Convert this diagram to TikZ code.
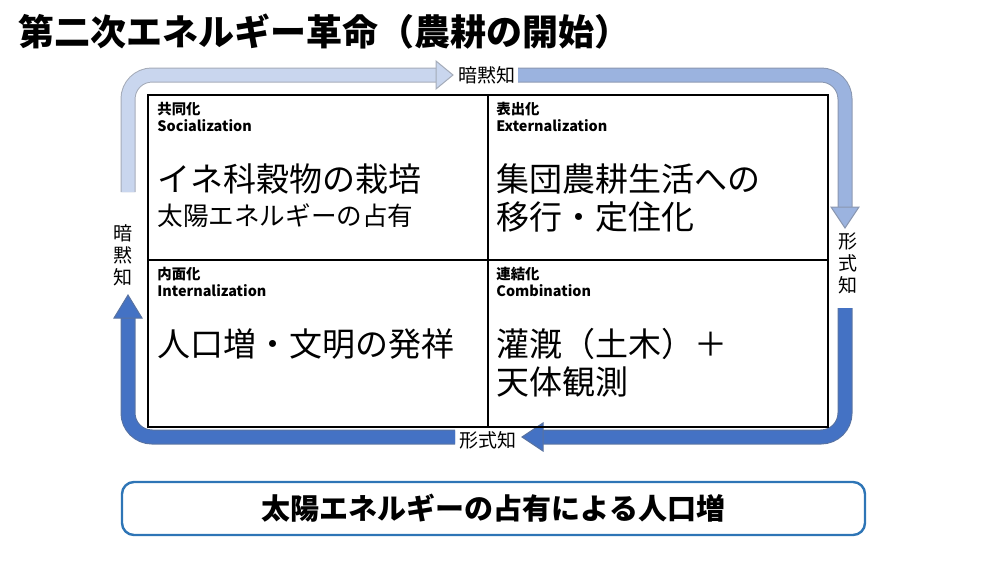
\documentclass[tikz,border=0pt]{standalone}
\usepackage{fontspec}
\setmainfont{Noto Sans CJK JP}
\begin{document}
\begin{tikzpicture}[x=0.5pt,y=-0.5pt,
 arr/.style={draw=#1!70!black!80, line width=0.5pt, double=#1, double distance=6.5pt, rounded corners=12pt},
 head/.style={draw=#1!70!black!80, line width=0.5pt, fill=#1},
 lbl/.style={font=\fontsize{9.5}{10}\selectfont, inner sep=1pt},
 vlbl/.style={font=\fontsize{9.5}{11}\selectfont, align=center, inner sep=1pt, fill=white},
 qhead/.style={font=\fontsize{7.2}{8.5}\selectfont\bfseries, align=left, anchor=north west, inner sep=0pt},
 qbody/.style={font=\fontsize{16.5}{19}\selectfont, align=left, anchor=north west, inner sep=0pt}]
\definecolor{pale}{HTML}{C9D6EE}
\definecolor{mid}{HTML}{9BB3DF}
\definecolor{dark}{HTML}{4472C4}
\definecolor{frame}{HTML}{2E75B6}
\useasboundingbox (0,0) rectangle (1000,562);
\node[anchor=west, font=\fontsize{18}{20}\selectfont\bfseries, inner sep=0pt] (title) at (18,32) {第二次エネルギー革命（農耕の開始）};
% arrows
\coordinate (a1) at (128,192); \coordinate (a2) at (436,75);
\draw[arr=pale] (a1) |- (a2);
\draw[head=pale] (436,61) -- (453,75) -- (436,89) -- cycle;
\coordinate (b1) at (518,75); \coordinate (b2) at (845,207);
\draw[arr=mid] (b1) -| (b2);
\draw[head=mid] (831,207) -- (845,228) -- (859,207) -- cycle;
\coordinate (c1) at (845,308); \coordinate (c2) at (543,437);
\draw[arr=dark] (c1) |- (c2);
\draw[head=dark] (543,423) -- (522,437) -- (543,451) -- cycle;
\coordinate (d1) at (455,437); \coordinate (d2) at (128,318);
\draw[arr=dark] (d1) -| (d2);
\draw[head=dark] (114,318) -- (128,295) -- (142,318) -- cycle;
\node[lbl] (t1) at (487,75) {暗黙知};
\node[vlbl] (t2) at (848,263) {形\\式\\知};
\node[lbl, fill=white] (t3) at (488,440) {形式知};
\node[vlbl] (t4) at (123,255) {暗\\黙\\知};
% grid
\draw[line width=0.6pt] (148,95) rectangle (828,427);
\draw[line width=0.6pt] (488,95) -- (488,427) (148,260) -- (828,260);
\node[qhead] (q1) at (157,102) {共同化\\Socialization};
\node[qbody] (b1t) at (157,163) {イネ科穀物の栽培\\[-2pt]{\fontsize{12.8}{15}\selectfont 太陽エネルギーの占有}};
\node[qhead] (q2) at (496,102) {表出化\\Externalization};
\node[qbody] (b2t) at (496,163) {集団農耕生活への\\移行・定住化};
\node[qhead] (q3) at (157,267) {内面化\\Internalization};
\node[qbody] (b3t) at (157,328) {人口増・文明の発祥};
\node[qhead] (q4) at (496,267) {連結化\\Combination};
\node[qbody] (b4t) at (496,328) {灌漑（土木）＋\\天体観測};
% bottom box
\node[draw=frame, line width=1.2pt, rounded corners=6pt, minimum width=371.5pt, minimum height=26.5pt, font=\fontsize{14.5}{16}\selectfont\bfseries] (sum) at (493.5,508.5) {太陽エネルギーの占有による人口増};
\end{tikzpicture}
\end{document}
